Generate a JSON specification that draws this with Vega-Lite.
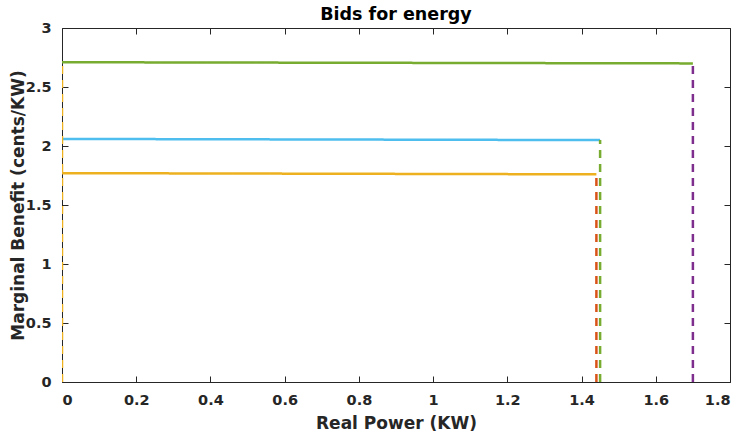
{
  "$schema": "https://vega.github.io/schema/vega-lite/v6.json",
  "width": 668,
  "height": 354,
  "autosize": {"type": "none"},
  "padding": {"left": 62, "top": 28, "right": 11, "bottom": 56},
  "background": "white",
  "title": {
    "text": "Bids for energy",
    "font": "DejaVu Sans",
    "fontSize": 17.5,
    "fontWeight": "bold",
    "color": "#000000",
    "anchor": "middle",
    "offset": -3
  },
  "config": {
    "view": {"stroke": "#262626", "strokeWidth": 1},
    "axis": {
      "labelFont": "DejaVu Sans",
      "labelFontSize": 14.5,
      "labelFontWeight": "bold",
      "labelColor": "#262626",
      "titleFont": "DejaVu Sans",
      "titleFontSize": 17,
      "titleFontWeight": "bold",
      "titleColor": "#262626",
      "domain": false,
      "grid": false,
      "tickColor": "#262626",
      "tickSize": -6,
      "tickWidth": 1
    }
  },
  "data": {
    "values": [
      {"seg": "bid3", "style": "solid", "x": 0, "y": 2.71},
      {"seg": "bid3", "style": "solid", "x": 1.7, "y": 2.7},
      {"seg": "bid2", "style": "solid", "x": 0, "y": 2.06},
      {"seg": "bid2", "style": "solid", "x": 1.45, "y": 2.05},
      {"seg": "bid1", "style": "solid", "x": 0, "y": 1.77},
      {"seg": "bid1", "style": "solid", "x": 1.44, "y": 1.76},
      {"seg": "cap0", "style": "dashed", "x": 0, "y": 0},
      {"seg": "cap0", "style": "dashed", "x": 0, "y": 2.7},
      {"seg": "cap1", "style": "dashed", "x": 1.44, "y": 0},
      {"seg": "cap1", "style": "dashed", "x": 1.44, "y": 1.76},
      {"seg": "cap2", "style": "dashed", "x": 1.45, "y": 0},
      {"seg": "cap2", "style": "dashed", "x": 1.45, "y": 2.05},
      {"seg": "cap3", "style": "dashed", "x": 1.7, "y": 0},
      {"seg": "cap3", "style": "dashed", "x": 1.7, "y": 2.7}
    ]
  },
  "layer": [
    {
      "mark": {"type": "line", "strokeWidth": 2.5, "clip": true},
      "encoding": {
        "x": {
          "field": "x",
          "type": "quantitative",
          "scale": {"domain": [0, 1.8], "nice": false, "zero": false},
          "axis": {
            "title": "Real Power (KW)",
            "values": [0, 0.2, 0.4, 0.6, 0.8, 1, 1.2, 1.4, 1.6, 1.8],
            "format": ".1~f",
            "labelPadding": 17,
            "titlePadding": 9
          }
        },
        "y": {
          "field": "y",
          "type": "quantitative",
          "scale": {"domain": [0, 3], "nice": false, "zero": false},
          "axis": {
            "title": "Marginal Benefit (cents/KW)",
            "values": [0, 0.5, 1, 1.5, 2, 2.5, 3],
            "format": ".1~f",
            "labelPadding": 17,
            "titlePadding": -2
          }
        },
        "detail": {"field": "seg"},
        "order": {"field": "y"},
        "color": {
          "field": "seg",
          "type": "nominal",
          "legend": null,
          "scale": {
            "domain": ["bid3", "bid2", "bid1", "cap0", "cap1", "cap2", "cap3"],
            "range": ["#77AC30", "#4DBEEE", "#EDB120", "#EDB120", "#D95319", "#77AC30", "#7E2F8E"]
          }
        },
        "strokeDash": {
          "field": "style",
          "type": "nominal",
          "legend": null,
          "scale": {"domain": ["solid", "dashed"], "range": [[1, 0], [8, 6]]}
        }
      }
    },
    {
      "mark": {"type": "rule", "opacity": 0},
      "encoding": {
        "x": {
          "field": "x",
          "type": "quantitative",
          "axis": {
            "orient": "top",
            "title": null,
            "labels": false,
            "values": [0, 0.2, 0.4, 0.6, 0.8, 1, 1.2, 1.4, 1.6, 1.8]
          }
        },
        "y": {
          "field": "y",
          "type": "quantitative",
          "axis": {
            "orient": "right",
            "title": null,
            "labels": false,
            "values": [0, 0.5, 1, 1.5, 2, 2.5, 3]
          }
        }
      }
    }
  ],
  "resolve": {"axis": {"x": "independent", "y": "independent"}}
}
